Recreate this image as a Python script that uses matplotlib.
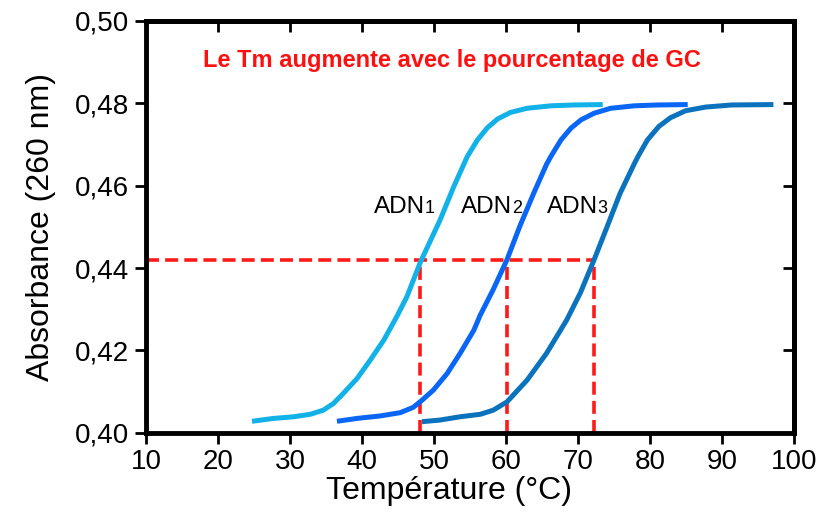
import matplotlib
matplotlib.use("Agg")
import matplotlib.pyplot as plt
from matplotlib import font_manager

# pick a condensed sans if there is one
names = {f.name for f in font_manager.fontManager.ttflist}
font = "Liberation Sans Narrow" if "Liberation Sans Narrow" in names else "Liberation Sans"
plt.rcParams["font.family"] = [font, "DejaVu Sans"]

# values
t1 = [24.7, 27.7, 30.5, 32.8, 34.6, 36.0, 37.4, 39.3, 41.1, 43.0, 44.8, 46.2, 48.1, 50.8,
      52.7, 54.6, 56.0, 57.4, 58.8, 60.6, 62.9, 66.2, 69.4, 73.4]
a1 = [0.4028, 0.4035, 0.4039, 0.4045, 0.4055, 0.4071, 0.4096, 0.4132, 0.4176, 0.4225, 0.4282,
      0.4330, 0.4415, 0.4516, 0.4597, 0.4671, 0.4711, 0.4741, 0.4762, 0.4778, 0.4788, 0.4794,
      0.4796, 0.4797]

t2 = [36.5, 39.3, 42.5, 45.3, 47.1, 48.3, 49.9, 51.8, 53.6, 55.5, 56.4, 58.2, 60.1, 61.9,
      63.8, 65.6, 66.2, 67.6, 69.0, 70.4, 72.2, 74.5, 77.8, 81.0, 85.2]
a2 = [0.4028, 0.4035, 0.4041, 0.4049, 0.4062, 0.4079, 0.4104, 0.4144, 0.4193, 0.4249, 0.4286,
      0.4348, 0.4420, 0.4502, 0.4581, 0.4652, 0.4671, 0.4711, 0.4740, 0.4760, 0.4776, 0.4788,
      0.4794, 0.4796, 0.4797]

t3 = [48.3, 50.8, 53.6, 56.4, 58.2, 60.1, 62.9, 65.6, 68.4, 70.3, 72.2, 74.0, 75.8, 77.8,
      78.3, 79.6, 81.2, 82.8, 84.9, 87.7, 91.3, 97.1]
a3 = [0.4027, 0.4031, 0.4039, 0.4045, 0.4055, 0.4075, 0.4128, 0.4193, 0.4274, 0.4340, 0.4420,
      0.4500, 0.4581, 0.4654, 0.4671, 0.4711, 0.4744, 0.4765, 0.4782, 0.4791, 0.4796, 0.4797]

tm = [48.1, 60.1, 72.2]
a_half = 0.442
labels = ["1", "2", "3"]
label_x = [48.7, 60.8, 72.7]
label_y = 0.4533
colors = ["#12b2e8", "#0a66f5", "#0b72bd"]

fig = plt.figure(figsize=(8.3, 5.24), dpi=100)
ax = fig.add_axes([0.176, 0.174, 0.781, 0.786])

for t, a, c in zip([t1, t2, t3], [a1, a2, a3], colors):
    ax.plot(t, a, color=c, lw=3.6, solid_capstyle="butt", solid_joinstyle="round", zorder=3)

dash = (0, (3.6, 1.7))
ax.plot([10, tm[-1]], [a_half, a_half], color="#ff1a1a", lw=2.6, linestyle=dash, zorder=2)
for x in tm:
    ax.plot([x, x], [0.40, a_half], color="#ff1a1a", lw=2.6, linestyle=dash, zorder=2)

for lx, lab in zip(label_x, labels):
    ax.text(lx, label_y, "ADN", ha="right", va="baseline", fontsize=17.5)
    ax.text(lx, label_y, lab, ha="left", va="baseline", fontsize=13)

ax.text(52.5, 0.4904, "Le Tm augmente avec le pourcentage de GC", color="#ff1010",
        fontsize=17, fontweight="bold", ha="center", va="center")

ax.set_xlim(10, 100)
ax.set_ylim(0.40, 0.50)
ax.set_xticks(range(10, 101, 10))
ax.set_yticks([0.40, 0.42, 0.44, 0.46, 0.48, 0.50])
ax.set_yticklabels(["0,40", "0,42", "0,44", "0,46", "0,48", "0,50"])
ax.tick_params(axis="both", direction="out", length=8, width=2, labelsize=20, pad=4)

# inward ticks on top and right, no labels
top = ax.secondary_xaxis("top")
top.set_xticks(range(20, 91, 10))
top.tick_params(direction="in", length=8, width=2, labeltop=False)
right = ax.secondary_yaxis("right")
right.set_yticks([0.42, 0.44, 0.46, 0.48])
right.tick_params(direction="in", length=8, width=2, labelright=False)

for s in ax.spines.values():
    s.set_linewidth(3.5)
top.spines["top"].set_linewidth(3.5)
right.spines["right"].set_linewidth(3.5)

ax.set_xlabel("Température (°C)", fontsize=23, labelpad=4)
ax.xaxis.set_label_coords(0.468, -0.105)
ax.set_ylabel("Absorbance (260 nm)", fontsize=23, labelpad=14)

fig.savefig("out.png", dpi=100)
